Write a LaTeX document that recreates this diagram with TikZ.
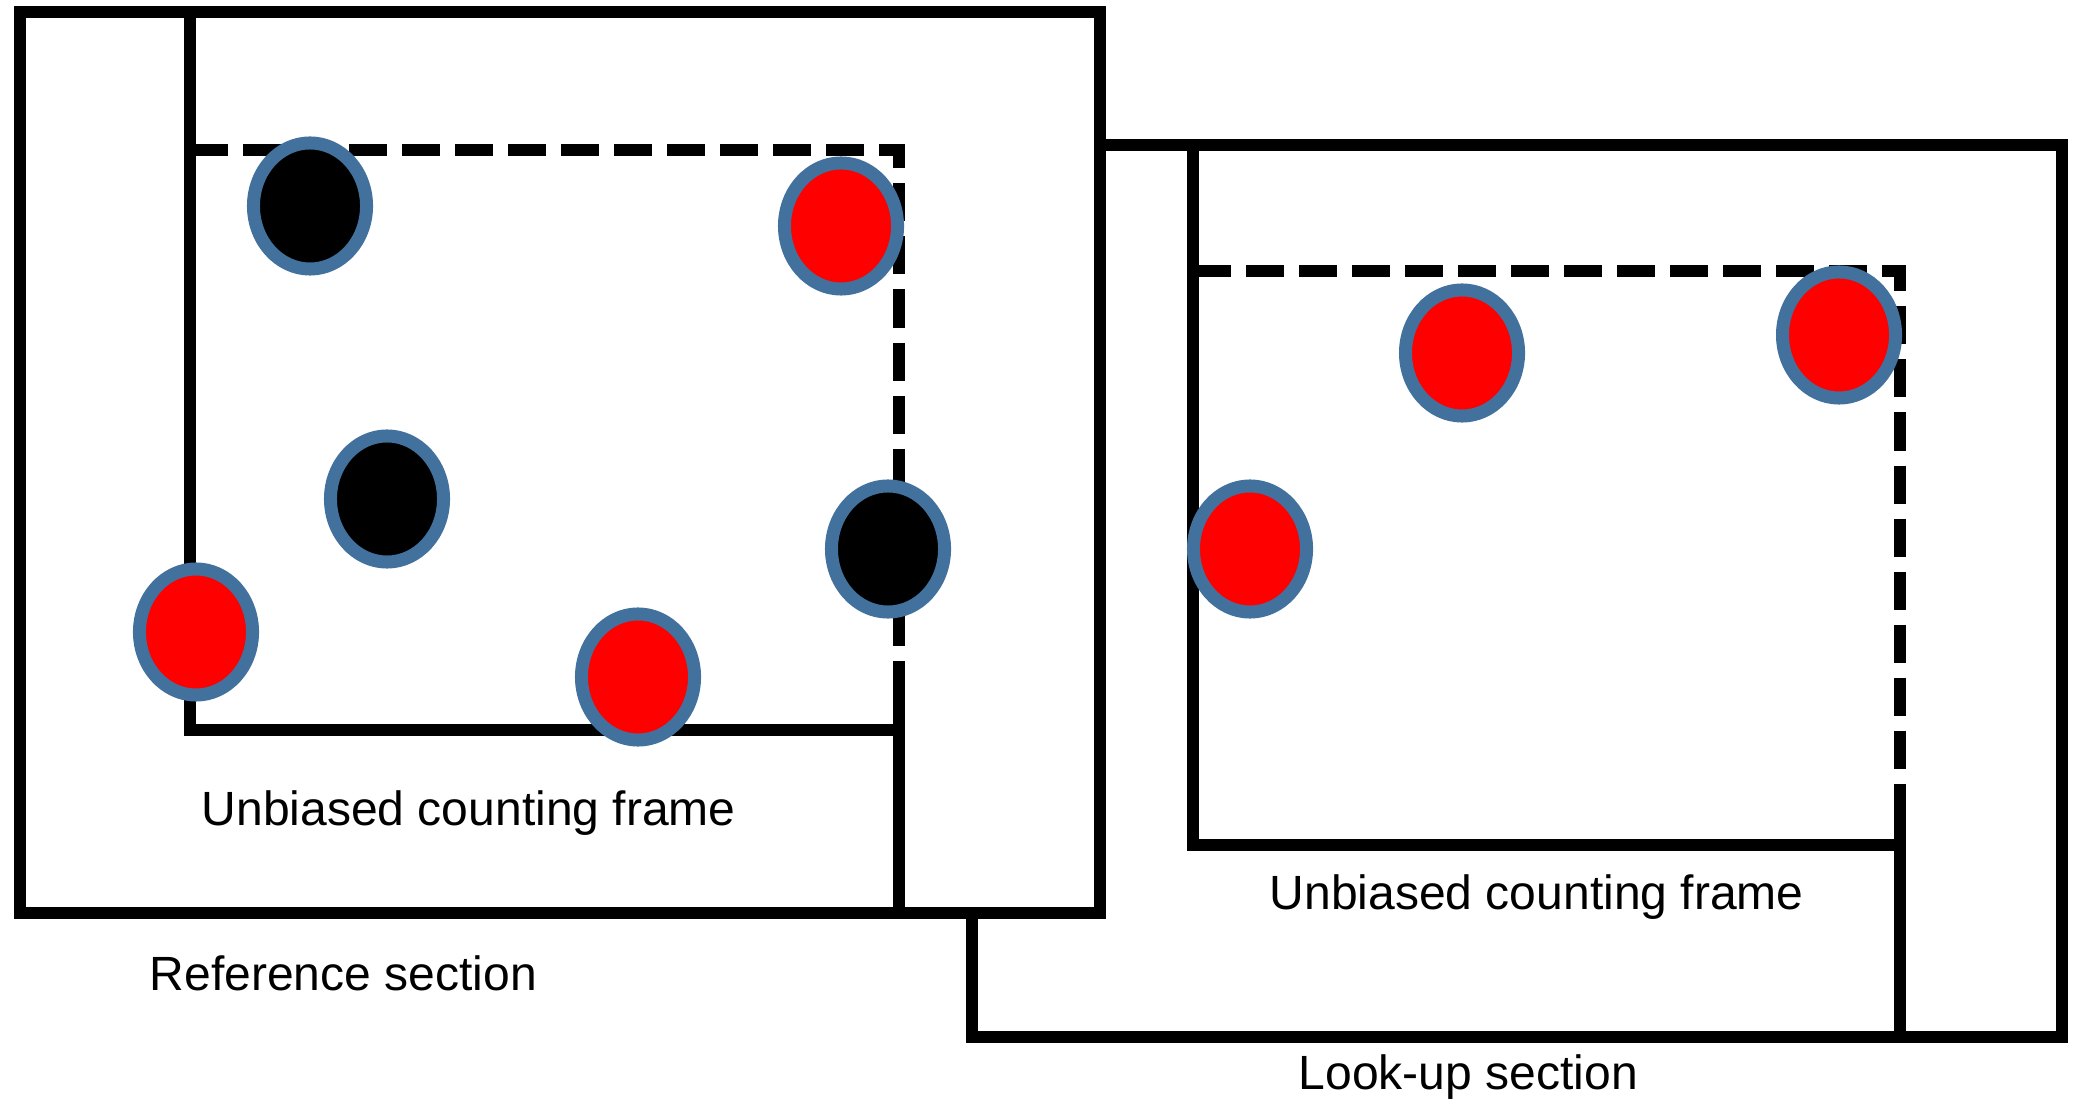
\documentclass[tikz,border=0pt]{standalone}
\usepackage{fontspec}
\setmainfont{Liberation Sans}
\usetikzlibrary{shapes.geometric}
\definecolor{ringblue}{RGB}{65,113,156}
\definecolor{dotred}{RGB}{255,0,0}
\begin{document}
\begin{tikzpicture}[x=0.01cm,y=-0.01cm,
  frame/.style={line width=0.12cm, line join=miter, line cap=rect},
  dashframe/.style={line width=0.12cm, dash pattern=on 0.38cm off 0.15cm},
  dot/.style={ellipse, draw=ringblue, line width=0.13cm, inner sep=0pt,
    minimum width=1.13cm, minimum height=1.26cm},
  reddot/.style={dot, fill=dotred},
  blackdot/.style={dot, fill=black},
  lbl/.style={anchor=base west, inner sep=0pt, font=\fontsize{13.66pt}{16pt}\selectfont}]
\useasboundingbox (0,0) rectangle (2083,1104);
% ---------- Look-up section ----------
\coordinate (LA) at (972,145);
\coordinate (LB) at (2062,1037);
\draw[frame, fill=white] (LA) rectangle (LB);
\coordinate (LF1) at (1193,145);
\coordinate (LF2) at (1193,845);
\coordinate (LF3) at (1900,845);
\coordinate (LD1) at (1193,271);
\coordinate (LD2) at (1900,271);
\coordinate (LD3) at (1900,805);
\coordinate (LD4) at (1900,1037);
\draw[frame] (LF1) -- (LF2) -- (LF3);
\draw[dashframe] (LD1) -- (LD2) -- (LD3);
\draw[frame] (LD3) -- (LD4);
\node[reddot] (l1) at (1462,353) {};
\node[reddot] (l2) at (1839,335) {};
\node[reddot] (l3) at (1250,549) {};
\node[lbl] (lfr) at (1269,909) {Unbiased counting frame};
\node[lbl] (lsec) at (1298,1089) {Look-up section};
% ---------- Reference section ----------
\coordinate (RA) at (20,12);
\coordinate (RB) at (1100,913);
\draw[frame, fill=white] (RA) rectangle (RB);
\coordinate (RF1) at (190,12);
\coordinate (RF2) at (190,730);
\coordinate (RF3) at (899,730);
\coordinate (RD1) at (190,150);
\coordinate (RD2) at (899,150);
\coordinate (RD3) at (899,694);
\coordinate (RD4) at (899,913);
\draw[frame] (RF1) -- (RF2) -- (RF3);
\draw[dashframe] (RD1) -- (RD2) -- (RD3);
\draw[frame] (RD3) -- (RD4);
\node[blackdot] (b1) at (310,206) {};
\node[blackdot] (b2) at (387,499) {};
\node[reddot] (r1) at (196,632) {};
\node[reddot] (r2) at (638,677) {};
\node[reddot] (r3) at (841,226) {};
\node[blackdot] (b3) at (888,549) {};
\node[lbl] (rfr) at (201,825) {Unbiased counting frame};
\node[lbl] (rsec) at (149,990) {Reference section};
\end{tikzpicture}
\end{document}
